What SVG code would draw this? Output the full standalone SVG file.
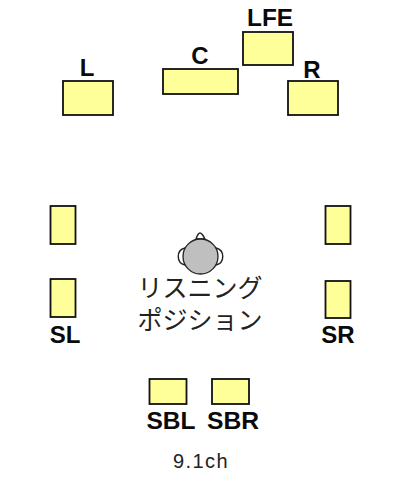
<svg xmlns="http://www.w3.org/2000/svg" width="400" height="480" viewBox="0 0 400 480">
<style>
.s{fill:#ffff99;stroke:#111;stroke-width:1.8}
.b{font:bold 24px "Liberation Sans",Arial,sans-serif;fill:#0a0a0a;text-anchor:middle}
.j{font:25px "Noto Sans CJK JP",sans-serif;fill:#222;text-anchor:middle}
.c{font:20px "Liberation Sans",Arial,sans-serif;fill:#222;text-anchor:middle;letter-spacing:1.4px}
.h{fill:#fff;stroke:#222;stroke-width:1.4}
</style>
<rect width="400" height="480" fill="#fff"/>
<g id="L"><rect class="s" x="63" y="81" width="50" height="34"/><text class="b" x="87" y="76">L</text></g>
<g id="C"><rect class="s" x="163" y="69" width="75" height="25"/><text class="b" x="200" y="64">C</text></g>
<g id="LFE"><rect class="s" x="243" y="32" width="50" height="33"/><text class="b" x="270" y="26" textLength="46" lengthAdjust="spacingAndGlyphs">LFE</text></g>
<g id="R"><rect class="s" x="288" y="81" width="50" height="34"/><text class="b" x="312" y="78">R</text></g>
<g id="SL1"><rect class="s" x="50.500" y="206" width="25" height="38"/></g>
<g id="SL"><rect class="s" x="50.500" y="279" width="25" height="38"/><text class="b" x="65" y="343">SL</text></g>
<g id="SR1"><rect class="s" x="325.500" y="206" width="25" height="38"/></g>
<g id="SR"><rect class="s" x="325.500" y="281" width="25" height="37"/><text class="b" x="338" y="343">SR</text></g>
<g id="SBL"><rect class="s" x="149.500" y="379" width="37" height="25"/><text class="b" x="171" y="429" textLength="49" lengthAdjust="spacingAndGlyphs">SBL</text></g>
<g id="SBR"><rect class="s" x="212" y="379" width="37" height="25"/><text class="b" x="233" y="429" textLength="52" lengthAdjust="spacingAndGlyphs">SBR</text></g>
<g id="listener">
<path class="h" d="M196 239Q198 233 200 233Q202 233 205 239Z"/>
<path class="h" d="M185 248C176 250 176 263 185 265L187 262C183 260 183 253 187 250Z"/>
<path class="h" d="M216 248C225 250 225 263 216 265L214 262C218 260 218 253 214 250Z"/>
<circle cx="200.500" cy="256.500" r="17.500" fill="#bfbfbf" stroke="#222" stroke-width="1.300"/>
<text class="j" x="200" y="297">リスニング</text>
<text class="j" x="200" y="329">ポジション</text>
</g>
<text class="c" x="201" y="468">9.1ch</text>
<g id="connectors"/>
</svg>
